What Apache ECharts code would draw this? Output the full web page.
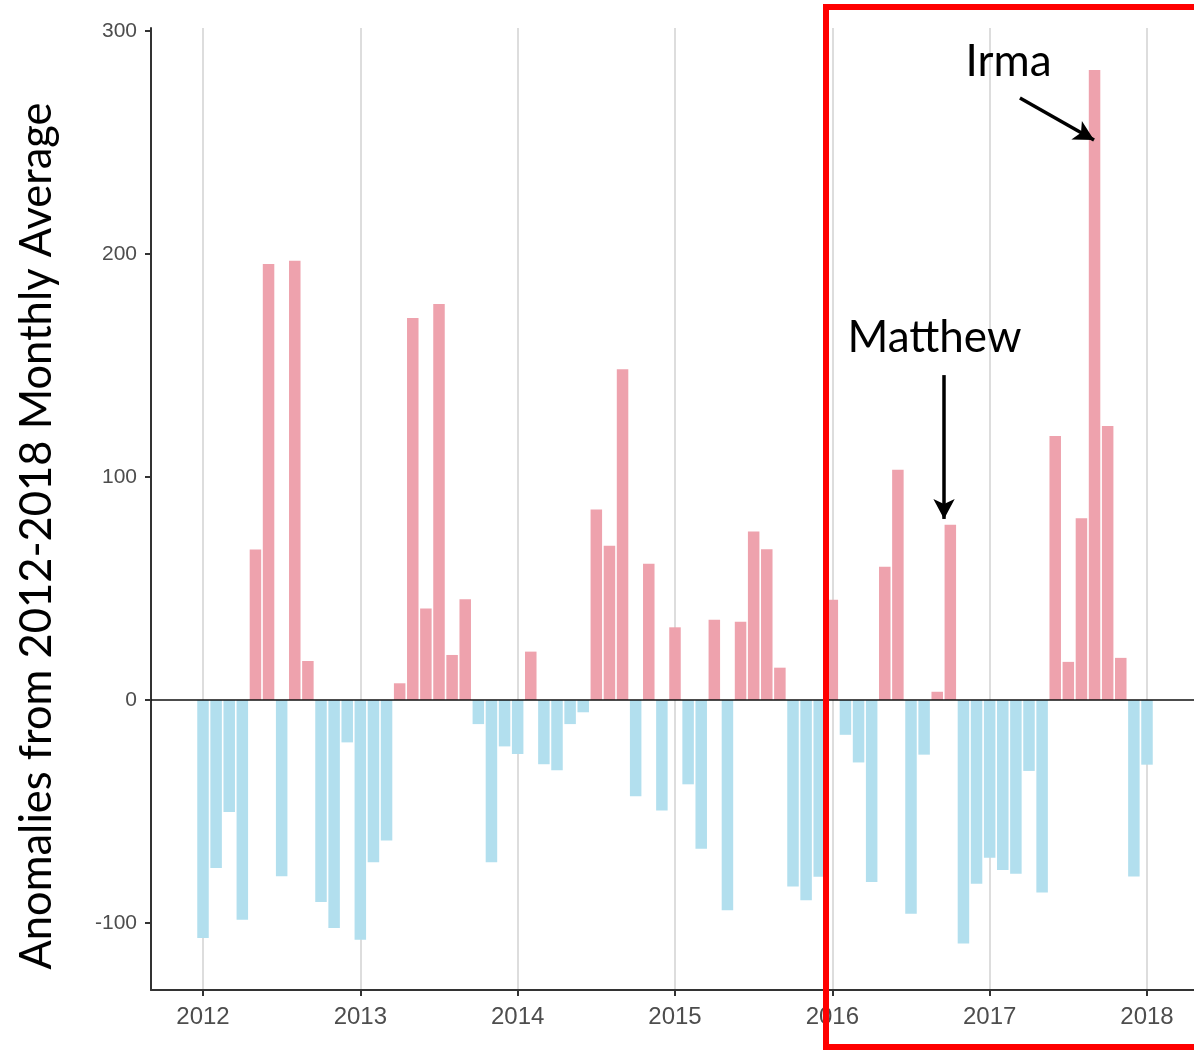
<!DOCTYPE html>
<html>
<head>
<meta charset="utf-8">
<script src="https://cdn.jsdelivr.net/npm/echarts@6/dist/echarts.min.js"></script>
<style>
html,body{margin:0;padding:0;background:#fff;}
#chart{width:1194px;height:1050px;}
</style>
</head>
<body>
<div id="chart"></div>
<script>
// Monthly anomalies, Jan 2012 .. Jan 2018
const startYear = 2012;
const anomalies2012 = [-106.7, -75.3, -50.2, -98.5, 67.5, 195.5, -79.0, 197.0, 17.5, -90.6, -102.2, -19.0];
const anomalies2013 = [-107.5, -72.8, -63.0, 7.5, 171.3, 41.0, 177.6, 20.2, 45.2, -10.8, -72.8, -20.8];
const anomalies2014 = [-24.2, 21.7, -28.8, -31.5, -10.8, -5.5, 85.4, 69.2, 148.3, -43.2, 61.1, -49.5];
const anomalies2015 = [32.6, -37.8, -66.7, 36.0, -94.3, 35.1, 75.6, 67.6, 14.5, -83.6, -89.8, -79.2];
const anomalies2016 = [45.0, -15.6, -28.0, -81.6, 59.8, 103.2, -95.8, -24.5, 3.7, 78.6, -109.2, -82.4];
const anomalies2017 = [-70.7, -76.2, -77.9, -31.8, -86.3, 118.4, 17.1, 81.5, 282.5, 122.9, 18.9, -79.1];
const anomalies2018 = [-29.0];

const yearTickMonths = [0, 12, 24, 36, 48, 60, 72];
const yearTickLabels = ['2012', '2013', '2014', '2015', '2016', '2017', '2018'];
const yTickValues = [-100, 0, 100, 200, 300];
const yTitle = 'Anomalies from 2012-2018 Monthly Average';

// annotations: text anchor (month, value), arrow from (month, value) to (month, value)
const annIrma = {text: 'Irma', at: [61.44, 286.3], from: [62.31, 270.0], to: [67.96, 251.1]};
const annMatthew = {text: 'Matthew', at: [55.79, 162.6], from: [56.52, 145.7], to: [56.52, 81.2]};

const allValues = [].concat(anomalies2012, anomalies2013, anomalies2014, anomalies2015, anomalies2016, anomalies2017, anomalies2018);
const barData = allValues.map((v, i) => [i, v]);

const POS = '#EEA2AD', NEG = '#B2DFEE';
const chart = echarts.init(document.getElementById('chart'));

const option = {
  backgroundColor: '#ffffff',
  animation: false,
  grid: {left: 151, right: 0, top: 28, bottom: 60, containLabel: false},
  xAxis: {
    type: 'value',
    min: -3.966, max: 75.585,
    axisLine: {show: true, onZero: false, lineStyle: {color: '#333', width: 2}},
    axisTick: {show: true, length: 6, lineStyle: {color: '#333', width: 2}, customValues: yearTickMonths},
    axisLabel: {
      show: true, margin: 15, fontSize: 24, color: '#4d4d4d', fontFamily: 'Liberation Sans',
      customValues: yearTickMonths,
      formatter: v => yearTickLabels[yearTickMonths.indexOf(v)] || ''
    },
    splitLine: {show: true, lineStyle: {color: '#d2d2d2', width: 1.5}, customValues: yearTickMonths}
  },
  yAxis: {
    type: 'value',
    min: -130.04, max: 301.35,
    axisLine: {show: true, onZero: false, lineStyle: {color: '#333', width: 2}},
    axisTick: {show: true, length: 6, lineStyle: {color: '#333', width: 2}, customValues: yTickValues},
    axisLabel: {show: true, margin: 14, fontSize: 21, color: '#4d4d4d', fontFamily: 'Liberation Sans', customValues: yTickValues},
    splitLine: {show: false}
  },
  series: [
    {
      type: 'bar',
      data: barData,
      barWidth: 11.5,
      itemStyle: {color: p => (p.value[1] >= 0 ? POS : NEG)},
      markLine: {
        silent: true,
        symbol: 'none',
        label: {show: false},
        lineStyle: {color: '#111', width: 1.6, type: 'solid'},
        data: [{yAxis: 0}]
      },
      z: 2
    },
    {
      type: 'line',
      data: [],
      markLine: {
        silent: true,
        symbol: ['none', 'arrow'],
        symbolSize: [16, 20],
        label: {show: false},
        lineStyle: {color: '#000', width: 3.5, type: 'solid'},
        data: [
          [{coord: annIrma.from}, {coord: annIrma.to}],
          [{coord: annMatthew.from}, {coord: annMatthew.to}]
        ]
      },
      z: 5
    }
  ]
};
chart.setOption(option);

const pI = chart.convertToPixel({gridIndex: 0}, annIrma.at);
const pM = chart.convertToPixel({gridIndex: 0}, annMatthew.at);
const fontAnn = 'Lato';
chart.setOption({
  graphic: [
    {type: 'text', x: 37, y: 536, rotation: Math.PI / 2, style: {text: yTitle, font: '43.5px Lato', fill: '#000', align: 'center', verticalAlign: 'middle'}},
    {type: 'text', x: pI[0], y: pI[1], z: 10, style: {text: annIrma.text, font: '44px ' + fontAnn, fill: '#000', align: 'center', verticalAlign: 'middle'}},
    {type: 'text', x: pM[0], y: pM[1], z: 10, style: {text: annMatthew.text, font: '44px ' + fontAnn, fill: '#000', align: 'center', verticalAlign: 'middle'}},
    {type: 'rect', z: 100, shape: {x: 826, y: 7, width: 420, height: 1040}, style: {fill: 'none', stroke: '#ff0000', lineWidth: 6}}
  ]
});
</script>
</body>
</html>
